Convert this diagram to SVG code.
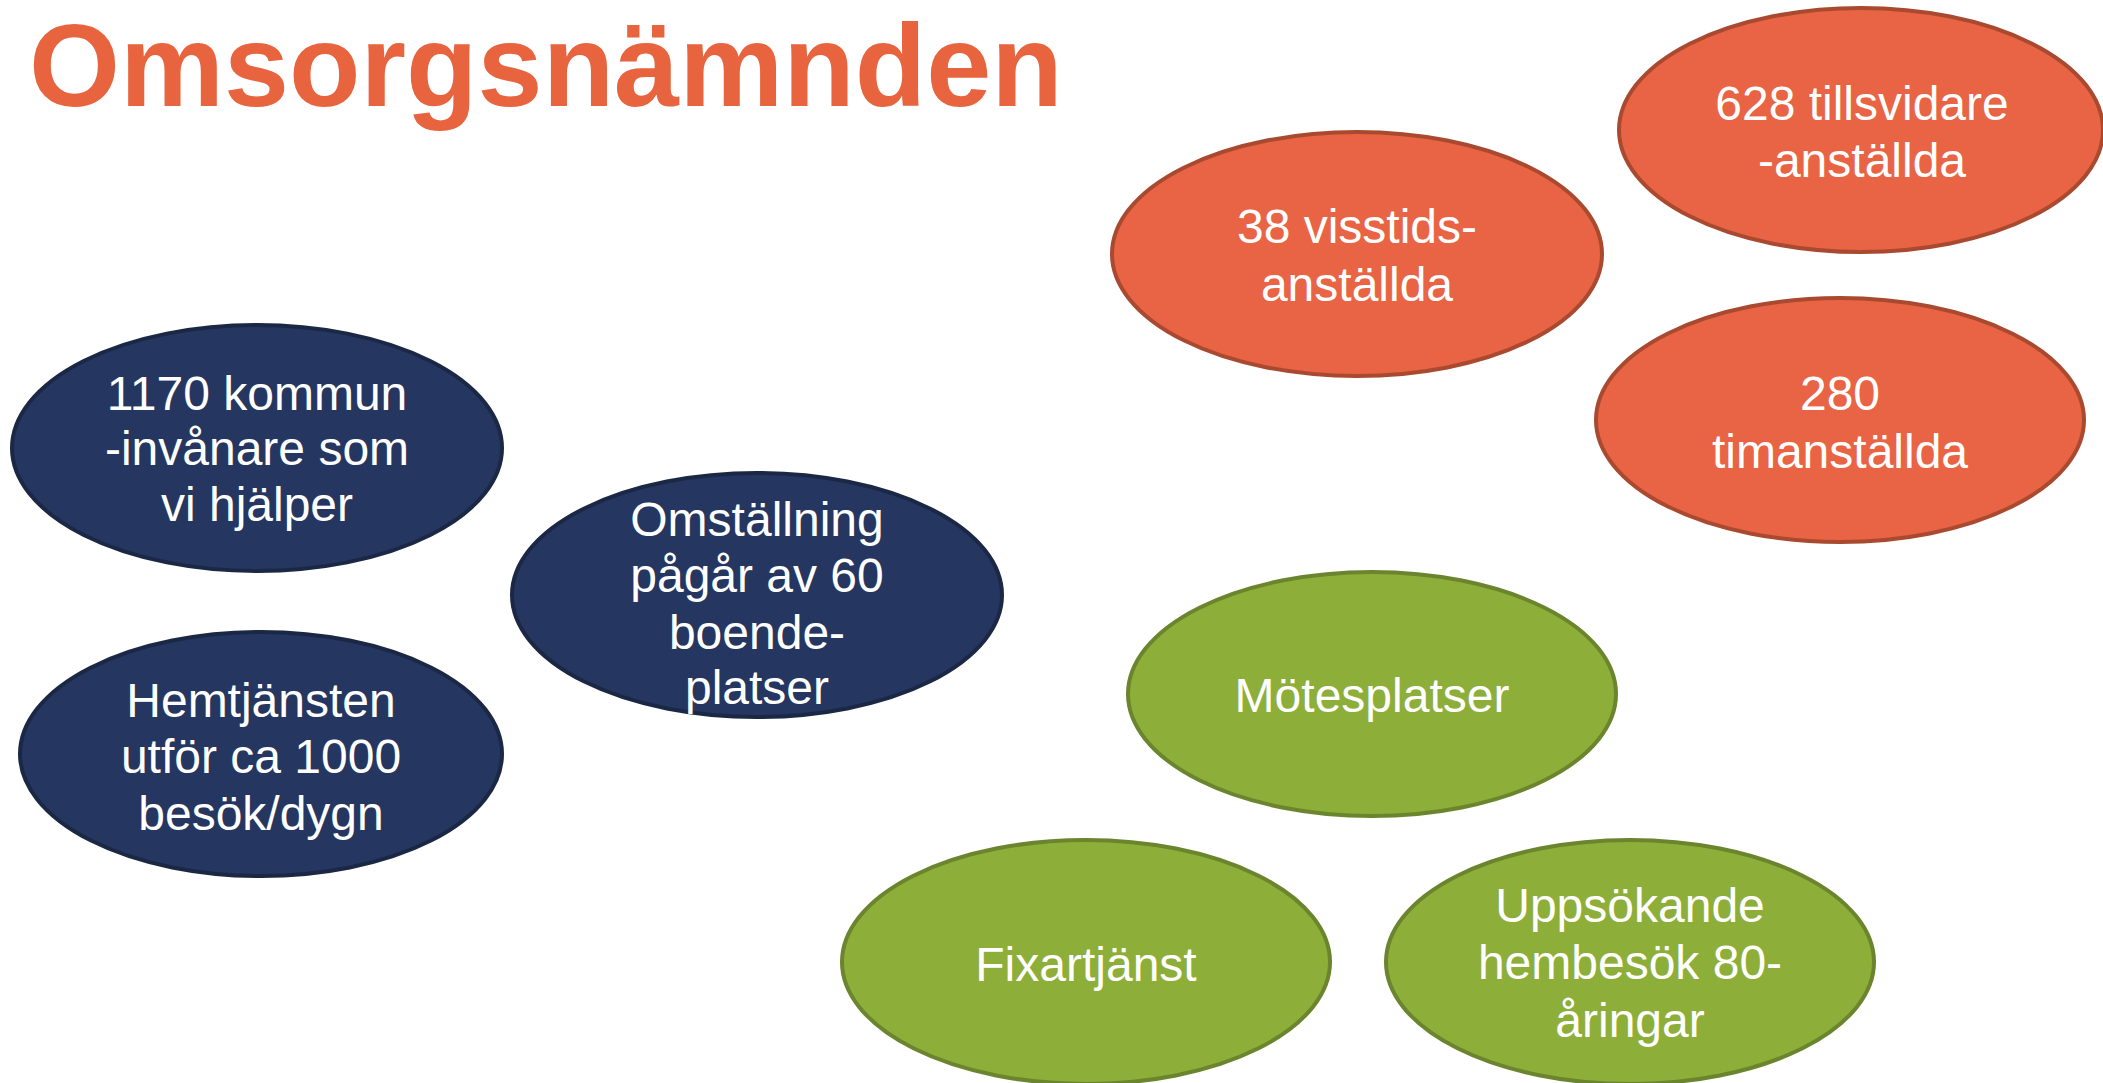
<svg xmlns="http://www.w3.org/2000/svg" width="2103" height="1083" viewBox="0 0 2103 1083">
<style>
.title{font-family:"Liberation Sans",Arial,sans-serif;font-weight:bold;font-size:117px;fill:#E8643F}
.lbl{font-family:"Liberation Sans",Arial,sans-serif;font-size:48px;fill:#FFFFFF;text-anchor:middle}
.orange{fill:#E96444;stroke:#A94A30;stroke-width:4}
.navy{fill:#253761;stroke:#1B2845;stroke-width:4}
.green{fill:#8EAE3A;stroke:#6B852E;stroke-width:4}
</style>
<rect width="2103" height="1083" fill="#FFFFFF"/>
<text class="title" x="29" y="106">Omsorgsnämnden</text>
<g id="connectors"/>
<g id="n628">
<ellipse class="orange" cx="1861" cy="130" rx="242" ry="122"/>
<text class="lbl" x="1862" y="120">628 tillsvidare</text>
<text class="lbl" x="1862" y="177">-anställda</text>
</g>
<g id="n38">
<ellipse class="orange" cx="1357" cy="254" rx="245" ry="122"/>
<text class="lbl" x="1357" y="243">38 visstids-</text>
<text class="lbl" x="1357" y="301">anställda</text>
</g>
<g id="n280">
<ellipse class="orange" cx="1840" cy="420" rx="244" ry="122"/>
<text class="lbl" x="1840" y="410">280</text>
<text class="lbl" x="1840" y="468">timanställda</text>
</g>
<g id="n1170">
<ellipse class="navy" cx="257" cy="448" rx="245" ry="123"/>
<text class="lbl" x="257" y="410">1170 kommun</text>
<text class="lbl" x="257" y="465">-invånare som</text>
<text class="lbl" x="257" y="521">vi hjälper</text>
</g>
<g id="nOmst">
<ellipse class="navy" cx="757" cy="595" rx="245" ry="122"/>
<text class="lbl" x="757" y="536">Omställning</text>
<text class="lbl" x="757" y="592">pågår av 60</text>
<text class="lbl" x="757" y="649">boende-</text>
<text class="lbl" x="757" y="704">platser</text>
</g>
<g id="nHemt">
<ellipse class="navy" cx="261" cy="754" rx="241" ry="122"/>
<text class="lbl" x="261" y="717">Hemtjänsten</text>
<text class="lbl" x="261" y="773">utför ca 1000</text>
<text class="lbl" x="261" y="830">besök/dygn</text>
</g>
<g id="nMotes">
<ellipse class="green" cx="1372" cy="694" rx="244" ry="122"/>
<text class="lbl" x="1372" y="712">Mötesplatser</text>
</g>
<g id="nFix">
<ellipse class="green" cx="1086" cy="962" rx="244" ry="122"/>
<text class="lbl" x="1086" y="981">Fixartjänst</text>
</g>
<g id="nUpp">
<ellipse class="green" cx="1630" cy="962" rx="244" ry="122"/>
<text class="lbl" x="1630" y="922">Uppsökande</text>
<text class="lbl" x="1630" y="979">hembesök 80-</text>
<text class="lbl" x="1630" y="1037">åringar</text>
</g>
</svg>
